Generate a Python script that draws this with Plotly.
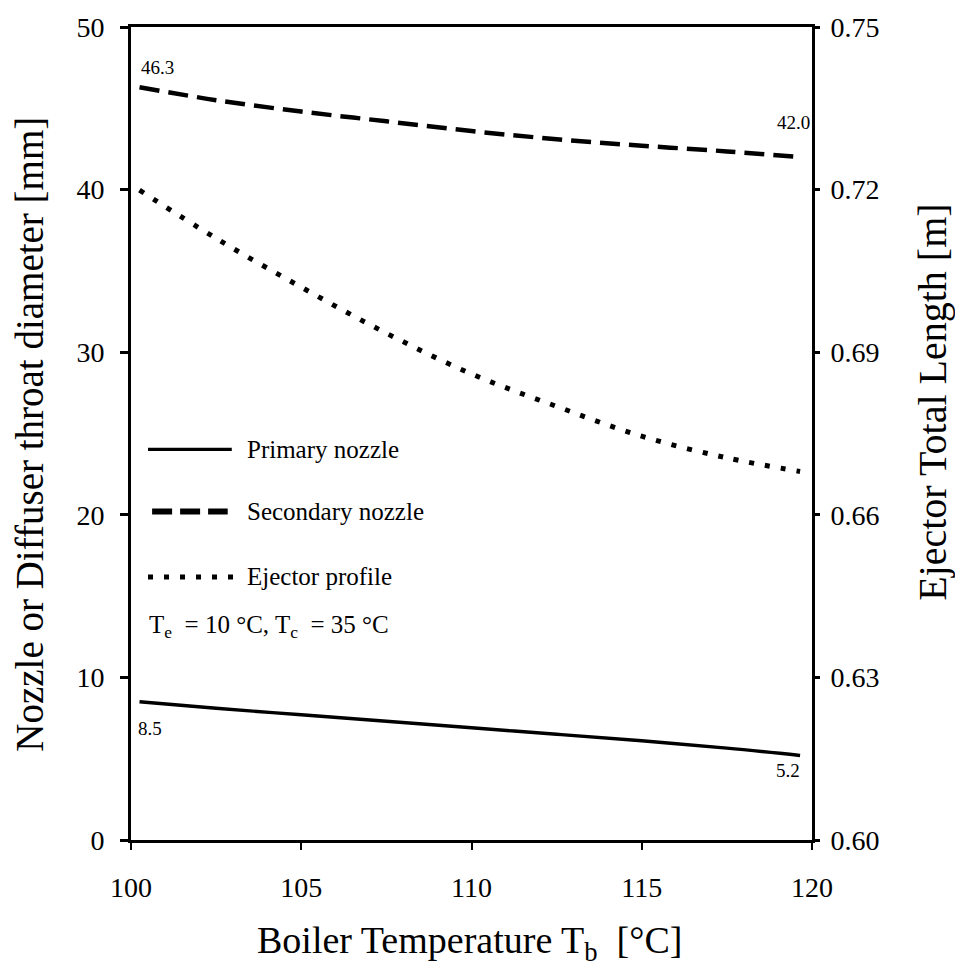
import plotly.graph_objects as go

# Boiler temperature [°C]
boiler_temp = [100.25, 102.5, 105, 107.5, 110, 112.5, 115, 117.5, 119.65]
# Throat diameters [mm]
primary_nozzle = [8.5, 8.1, 7.7, 7.3, 6.9, 6.5, 6.1, 5.65, 5.2]
secondary_nozzle = [46.3, 45.5, 44.8, 44.2, 43.6, 43.1, 42.7, 42.35, 42.0]
# Ejector total length [m]
ejector_length = [0.7199, 0.711, 0.702, 0.6935, 0.686, 0.680, 0.6745, 0.6705, 0.668]

x_ticks = [100, 105, 110, 115, 120]
left_ticks = [0, 10, 20, 30, 40, 50]
right_ticks = [0.60, 0.63, 0.66, 0.69, 0.72, 0.75]

FONT = "Liberation Serif"
BLACK = "#000000"

fig = go.Figure()

fig.add_trace(go.Scatter(
    x=boiler_temp, y=primary_nozzle, mode="lines", name="Primary nozzle",
    line=dict(color=BLACK, width=3.4, shape="spline"), yaxis="y"))
fig.add_trace(go.Scatter(
    x=boiler_temp, y=secondary_nozzle, mode="lines", name="Secondary nozzle",
    line=dict(color=BLACK, width=4.5, dash="20px,9px", shape="spline"), yaxis="y"))
fig.add_trace(go.Scatter(
    x=boiler_temp, y=ejector_length, mode="lines", name="Ejector profile",
    line=dict(color=BLACK, width=5, dash="5px,11px", shape="spline"), yaxis="y2"))

# End-point value labels
def value_label(x, y, text, xanchor, yanchor, xshift, yshift):
    return dict(x=x, y=y, xref="x", yref="y", text=text, showarrow=False,
                xanchor=xanchor, yanchor=yanchor, xshift=xshift, yshift=yshift,
                font=dict(family=FONT, size=19, color=BLACK))

annotations = [
    value_label(boiler_temp[0], secondary_nozzle[0], f"{secondary_nozzle[0]:.1f}", "left", "bottom", -1, 7),
    value_label(boiler_temp[-1], secondary_nozzle[-1], f"{secondary_nozzle[-1]:.1f}", "right", "bottom", 12, 22),
    value_label(boiler_temp[0], primary_nozzle[0], f"{primary_nozzle[0]:.1f}", "left", "top", -4, -14),
    value_label(boiler_temp[-1], primary_nozzle[-1], f"{primary_nozzle[-1]:.1f}", "right", "top", 2, -3),
]

# Legend drawn inside the plot area
legend_rows = [
    ("Primary nozzle", 0.4805, dict(color=BLACK, width=3.4), 0.025, 0.148),
    ("Secondary nozzle", 0.404, dict(color=BLACK, width=6, dash="20px,8px"), 0.031, 0.142),
    ("Ejector profile", 0.3236, dict(color=BLACK, width=5, dash="5px,11px"), 0.025, 0.155),
]
shapes = []
for label, yp, line, x0, x1 in legend_rows:
    shapes.append(dict(type="line", xref="paper", yref="paper", x0=x0, x1=x1,
                       y0=yp, y1=yp, line=line))
    annotations.append(dict(x=0.168, y=yp, xref="paper", yref="paper", text=label,
                            showarrow=False, xanchor="left", yanchor="middle",
                            font=dict(family=FONT, size=25, color=BLACK)))
annotations.append(dict(x=0.024, y=0.263, xref="paper", yref="paper",
                        text="T<sub>e</sub>  = 10 °C, T<sub>c</sub>  = 35 °C",
                        showarrow=False, xanchor="left", yanchor="middle",
                        font=dict(family=FONT, size=25, color=BLACK)))

# Axis titles
annotations += [
    dict(x=-0.1483, y=0.4985, xref="paper", yref="paper", textangle=-90,
         text="Nozzle or Diffuser throat diameter [mm]", showarrow=False,
         xanchor="center", yanchor="middle",
         font=dict(family=FONT, size=39, color=BLACK)),
    dict(x=1.1777, y=0.5377, xref="paper", yref="paper", textangle=-90,
         text="Ejector Total Length [m]", showarrow=False,
         xanchor="center", yanchor="middle",
         font=dict(family=FONT, size=40, color=BLACK)),
    dict(x=0.497, y=-0.1265, xref="paper", yref="paper",
         text="Boiler Temperature T<sub>b</sub>  [°C]", showarrow=False,
         xanchor="center", yanchor="middle",
         font=dict(family=FONT, size=38, color=BLACK)),
]

tick_font = dict(family=FONT, size=28, color=BLACK)

fig.update_layout(
    width=955, height=969,
    margin=dict(l=131, r=143, t=18, b=129),
    paper_bgcolor="white", plot_bgcolor="white",
    showlegend=False,
    xaxis=dict(range=[100, 120], tickvals=x_ticks, ticktext=[str(v) for v in x_ticks],
               showgrid=False, zeroline=False, showline=True, linecolor=BLACK,
               linewidth=3, mirror=True, ticks="outside", ticklen=7, tickwidth=2,
               tickcolor=BLACK, tickfont=tick_font, ticklabelstandoff=13),
    yaxis=dict(range=[0, 50], tickvals=left_ticks, ticktext=[str(v) for v in left_ticks],
               showgrid=False, zeroline=False, showline=True, linecolor=BLACK,
               linewidth=3, ticks="outside", ticklen=8, tickwidth=3,
               tickcolor=BLACK, tickfont=tick_font, ticklabelstandoff=10),
    yaxis2=dict(range=[0.60, 0.75], tickvals=right_ticks,
                ticktext=[f"{v:.2f}" for v in right_ticks],
                overlaying="y", side="right", anchor="x",
                showgrid=False, zeroline=False, showline=True, linecolor=BLACK,
                linewidth=3, ticks="outside", ticklen=5, tickwidth=3,
                tickcolor=BLACK, tickfont=tick_font, ticklabelstandoff=5),
    shapes=shapes,
    annotations=annotations,
)

fig.write_html("out.html")
